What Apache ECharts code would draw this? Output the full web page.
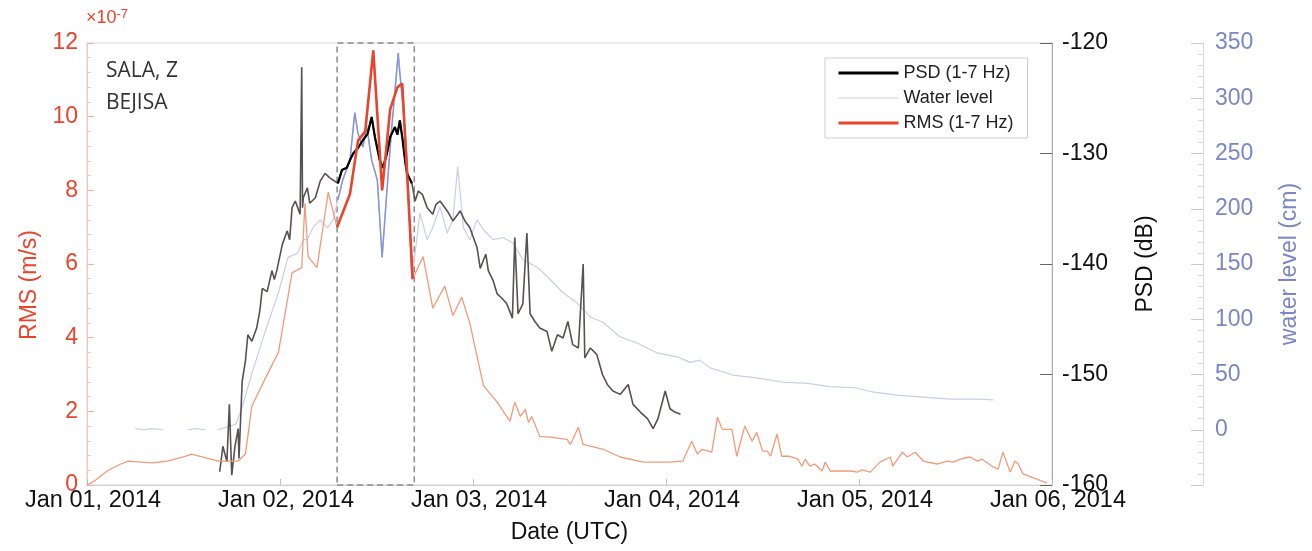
<!DOCTYPE html>
<html lang="en">
<head>
<meta charset="UTF-8">
<title>SALA, Z - BEJISA</title>
<script src="https://cdn.jsdelivr.net/npm/echarts@6/dist/echarts.min.js"></script>
<style>
  html, body { margin: 0; padding: 0; background: #fff; }
  #main { width: 1312px; height: 551px; }
</style>
</head>
<body>
<div id="main"></div>
<script>
// hours since Jan 01 2014 00:00 UTC
const dayLabels = ['Jan 01, 2014', 'Jan 02, 2014', 'Jan 03, 2014', 'Jan 04, 2014', 'Jan 05, 2014', 'Jan 06, 2014'];
const boxStart = 31.1;
const boxEnd = 40.7;

// RMS (1-7 Hz), x1e-7 m/s
const rmsHours = [0, 1, 2.5, 4, 5.1, 8.1, 10, 12.2, 13, 16.3, 18.8, 19.7, 20.5, 22.1, 23.8, 25.5, 26.7, 27.1, 27.5, 28.6, 30,
  31.1, 32.7, 33.7, 34.6, 35.6, 36.7, 37.7, 38.6, 39.2, 40.5, 41.8, 43, 44.5, 45.5, 46.6, 47.6, 49.3, 51, 52.6, 53.2, 53.9,
  54.5, 54.9, 55.3, 56.3, 57.6, 59.7, 60.1, 61.1, 61.7, 64.2, 66.3, 69.2, 72.5, 74.1, 75.2, 75.9, 76.5, 77.7, 78.4, 79.0,
  80.2, 80.8, 81.8, 82.7, 83.3, 84.0, 84.6, 85.0, 85.8, 86.4, 87.4, 88.4, 88.9, 89.3, 89.9, 90.5, 91.4, 91.8, 92.4, 94.9,
  95.8, 96.4, 97.4, 98.6, 99.9, 100.2, 101.4, 102.0, 103.0, 104.0, 105.7, 107.0, 107.7, 108.6, 109.8, 110.7, 111.3, 112.7,
  113.3, 113.9, 114.8, 115.4, 115.8, 116.4, 119.4];
const rmsValues = [0, 0.12, 0.38, 0.55, 0.65, 0.6, 0.65, 0.78, 0.84, 0.65, 0.65, 0.84, 2.14, 2.86, 3.6, 5.76, 5.9, 7.65, 6.2, 5.9, 7.95,
  7.0, 7.9, 9.35, 9.6, 11.8, 8.0, 10.2, 10.8, 10.9, 5.6, 6.2, 4.8, 5.4, 4.6, 5.1, 4.4, 2.7, 2.25, 1.73, 2.25, 1.86,
  2.05, 1.7, 1.86, 1.32, 1.3, 1.24, 1.1, 1.57, 1.1, 0.97, 0.76, 0.62, 0.62, 0.65, 1.19, 0.84, 0.97, 0.89, 1.84, 1.51,
  1.51, 0.78, 1.6, 1.19, 1.43, 0.92, 0.92, 0.78, 1.38, 0.78, 0.78, 0.7, 0.51, 0.7, 0.51, 0.57, 0.38, 0.62, 0.38, 0.38,
  0.35, 0.41, 0.35, 0.62, 0.76, 0.51, 0.89, 0.76, 0.89, 0.65, 0.57, 0.65, 0.62, 0.7, 0.76, 0.65, 0.7, 0.49,
  0.43, 0.89, 0.35, 0.65, 0.57, 0.3, 0.05];

// PSD (1-7 Hz), dB
const psdHours = [16.5, 16.9, 17.4, 17.7, 18.0, 18.4, 18.8, 18.9, 19.3, 19.7, 20.0, 20.5, 21.1, 21.5, 21.8, 22.4, 23.0, 23.3, 23.6, 24.3,
  24.9, 25.2, 25.5, 25.9, 26.5, 26.7, 26.8, 26.9, 27.4, 27.7, 28.4, 29.0, 29.6, 30.2, 30.8, 31.2, 31.7, 32.3, 32.7, 33.1, 33.7, 34.3,
  34.9, 35.4, 35.8, 36.4, 36.8, 37.3, 37.7, 38.3, 38.6, 38.9, 39.2, 39.6, 39.8, 40.4, 40.8, 41.2, 41.7, 42.3, 43.0, 43.4, 43.9, 44.8, 45.5,
  46.4, 47.0, 47.6, 48.5, 48.9, 49.1, 49.6, 49.9, 50.5, 51.0, 51.6, 52.2, 52.9, 53.2, 53.6, 54.2, 54.7, 55.1, 55.7, 56.3,
  57.2, 57.8, 58.5, 59.2, 59.8, 60.4, 61.1, 61.7, 61.9, 62.6, 63.4, 64.1, 64.7, 65.4, 66.3, 67.3, 67.9, 68.8, 69.7, 70.4,
  71.0, 71.9, 72.5, 73.1, 73.8];
const psdValues = [-158.8, -156.5, -157.9, -152.7, -159.1, -156.5, -154.9, -157.6, -150.6, -148.8, -146.4, -147, -145.8, -144.2, -142.2, -142.5, -140.6, -141.4, -140.6, -138.2,
  -137, -137.8, -134.9, -134.3, -135.5, -122.2, -134.9, -134, -133.1, -134.5, -134, -132.5, -131.8, -132.2, -132.5, -132.7, -131.5, -131.3, -130.6, -130, -129.5, -128.8,
  -128.2, -126.7, -128.5, -130.6, -131.3, -130, -128.5, -127.6, -128.3, -127, -128.5, -130.9, -131.8, -132.7, -134.3, -133.4, -133.7, -134.9, -135.5, -134.6, -134.3, -135.2, -136.1,
  -135.2, -136.1, -136.7, -138.5, -140.4, -140.4, -139.1, -140.6, -141.5, -142.7, -143.1, -143.6, -144.9, -137.6, -144.5, -143.6, -137.2, -144.5, -145.2, -145.8,
  -146.1, -147.9, -146.4, -146.7, -145.2, -147.3, -147.6, -140, -148.5, -147.6, -148.2, -150, -150.9, -151.5, -151.8, -150.9, -152.7, -153.4, -154, -154.9,
  -154, -151.5, -153.1, -153.4, -153.6];

// water level, cm (null = no data)
const waterHours = [6, 7, 8, 9.5, 11, 12.5, 13.5, 14.7, 15.5, 16.3, 18.5, 19.3, 20.5, 22.1, 23.8, 25.0, 26.2, 26.9, 27.4, 28.1,
  29.0, 29.9, 30.6, 31.2, 31.8, 32.7, 33.3, 33.7, 34.3, 34.8, 35.4, 36.1, 36.7, 37.3, 37.9, 38.3, 38.7, 38.9, 39.3, 39.8,
  40.2, 40.4, 40.5, 41.4, 42.3, 43.0, 43.9, 44.8, 45.5, 46.1, 46.8, 47.6, 48.5, 49.3, 50.5, 51.7, 53.0, 54.2, 56.0, 57.6,
  59.2, 60.9, 62.6, 64.2, 66.3, 68.4, 70.9, 73.4, 75.0, 76.2, 77.5, 80.3, 83.3, 86.6, 89.6, 92.4, 95.5, 97.8, 100.7, 104.0,
  107.3, 110.7, 112.7];
const waterValues = [1, 0, 1, 0, null, 0, 1, 0, null, 0, 5, 20.6, 51, 87.5, 124, 156, 160, 172, 172, 183,
  190, 183, 190, 208, 226, 244, 287, 268, 256, 274, 244, 226, 156, 217, 274, 307, 341, 323, 292, 245,
  172, 136, 142, 196, 172, 183, 202, 178, 190, 238, 183, 172, 190, 181, 172, 174, 169, 154, 147, 136,
  124, 115, 102, 97, 84, 78.5, 69.5, 66, 61, 63, 56, 49.5, 47, 43, 42, 39, 38, 34, 31.4, 29.6,
  27.8, 27.8, 27];

function pairs(hours, values) {
  return hours.map((h, i) => [h, values[i] == null ? '-' : values[i]]);
}
function inBox(list) {
  return list.filter(p => p[0] >= boxStart && p[0] <= boxEnd);
}

const rmsData = pairs(rmsHours, rmsValues);
const psdData = pairs(psdHours, psdValues);
const waterData = pairs(waterHours, waterValues);

const font = 'Liberation Sans, Arial, sans-serif';
const red = '#e8452c';
const lav = '#7b86c4';

var chart = echarts.init(document.getElementById('main'));
var option = {
  animation: false,
  grid: { left: 87, right: 260, top: 43, bottom: 66, show: true, borderColor: '#d8d8d8', borderWidth: 1, outerBoundsMode: 'none' },
  legend: {
    data: [
      { name: 'PSD (1-7 Hz)', lineStyle: { width: 3, color: '#000' } },
      { name: 'Water level', lineStyle: { width: 1, color: '#c9cdec' } },
      { name: 'RMS (1-7 Hz)', lineStyle: { width: 3, color: red } }
    ],
    orient: 'vertical', left: 825, top: 58,
    itemWidth: 60, itemHeight: 14, itemGap: 7,
    padding: [6, 14, 6, 12],
    borderColor: '#cfcfcf', borderWidth: 1,
    itemStyle: { opacity: 0 },
    textStyle: { fontFamily: font, fontSize: 18, color: '#222' }
  },
  xAxis: {
    type: 'value', min: 0, max: 120, interval: 24,
    name: 'Date (UTC)', nameLocation: 'middle', nameGap: 36,
    nameTextStyle: { fontFamily: font, fontSize: 23, color: '#111' },
    axisLine: { lineStyle: { color: '#d0d0d0' } },
    axisTick: { inside: true, length: 6, lineStyle: { color: '#c0c0c0' } },
    splitLine: { show: false },
    axisLabel: { fontFamily: font, fontSize: 23.5, color: '#111', margin: 4, padding: [0, 0, 0, 12], formatter: v => dayLabels[Math.round(v / 24)] }
  },
  yAxis: [
    {
      type: 'value', position: 'left', min: 0, max: 12, interval: 2,
      name: 'RMS (m/s)', nameLocation: 'middle', nameGap: 46,
      nameTextStyle: { fontFamily: font, fontSize: 23, color: red, padding: [0, 42, 0, 0] },
      axisLine: { show: true, lineStyle: { color: '#f4c8b8' } },
      axisTick: { inside: true, length: 7, lineStyle: { color: '#f0b4a0' } },
      minorTick: { show: true, splitNumber: 5, length: 4, lineStyle: { color: '#f4c4b4' } },
      splitLine: { show: false },
      axisLabel: { fontFamily: font, fontSize: 23, color: red, margin: 9 }
    },
    {
      type: 'value', position: 'right', min: -160, max: -120, interval: 10,
      name: 'PSD (dB)', nameLocation: 'middle', nameGap: 82,
      nameTextStyle: { fontFamily: font, fontSize: 23, color: '#111' },
      axisLine: { show: true, lineStyle: { color: '#a8a8a8' } },
      axisTick: { inside: true, length: 12, lineStyle: { color: '#666' } },
      splitLine: { show: false },
      axisLabel: { fontFamily: font, fontSize: 23, color: '#111', margin: 10 }
    },
    {
      type: 'value', position: 'right', offset: 151, min: -50, max: 350, interval: 50,
      name: 'water level (cm)', nameLocation: 'middle', nameGap: 75,
      nameTextStyle: { fontFamily: font, fontSize: 23, color: lav },
      axisLine: { show: true, lineStyle: { color: '#d4d7ee' } },
      axisTick: { inside: true, length: 12, lineStyle: { color: '#c4c8e6' } },
      minorTick: { show: true, splitNumber: 5, length: 5, lineStyle: { color: '#d4d7ee' } },
      splitLine: { show: false },
      axisLabel: { fontFamily: font, fontSize: 23, color: lav, margin: 12, formatter: v => v < 0 ? '' : v }
    }
  ],
  graphic: [
    {
      type: 'text', left: 86, top: 8,
      style: {
        text: '×10{sup|-7}', fill: red, font: '18px ' + font,
        rich: { sup: { fontSize: 13, fill: red, fontFamily: font, verticalAlign: 'top', padding: [0, 0, 8, 0] } }
      }
    },
    {
      type: 'text', left: 106, top: 55,
      style: { text: 'SALA, Z\nBEJISA', fill: '#333', font: '21px "Open Sans", sans-serif', lineHeight: 32 }
    }
  ],
  series: [
    {
      name: 'Water level', type: 'line', yAxisIndex: 2, data: waterData, symbol: 'none',
      lineStyle: { color: '#c9cdec', width: 1.2 }, itemStyle: { color: '#c9cdec' },
      markArea: {
        silent: true,
        itemStyle: { color: 'rgba(0,0,0,0)', borderColor: '#8a8a8a', borderWidth: 1.5, borderType: [6, 4] },
        data: [[{ xAxis: boxStart }, { xAxis: boxEnd }]]
      }
    },
    {
      name: 'Water box', type: 'line', yAxisIndex: 2, data: inBox(waterData), symbol: 'none',
      lineStyle: { color: '#8794d2', width: 1.5 }
    },
    {
      name: 'PSD full', type: 'line', yAxisIndex: 1, data: psdData, symbol: 'none',
      lineStyle: { color: '#57514f', width: 1.6 }
    },
    {
      name: 'PSD (1-7 Hz)', type: 'line', yAxisIndex: 1, data: inBox(psdData), symbol: 'none',
      lineStyle: { color: '#000', width: 2.2 }, itemStyle: { color: '#000' }
    },
    {
      name: 'RMS full', type: 'line', yAxisIndex: 0, data: rmsData, symbol: 'none',
      lineStyle: { color: '#f39a78', width: 1.3 }
    },
    {
      name: 'RMS (1-7 Hz)', type: 'line', yAxisIndex: 0, data: inBox(rmsData), symbol: 'none',
      lineStyle: { color: red, width: 2.6 }, itemStyle: { color: red }
    }
  ]
};
chart.setOption(option);
</script>
</body>
</html>
